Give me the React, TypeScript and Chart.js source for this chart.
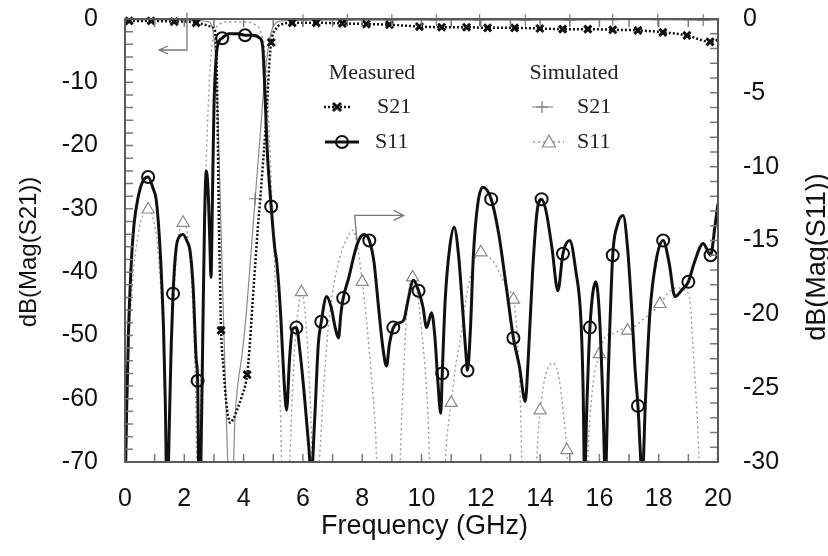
import React, { useEffect, useRef } from "react";
import { Chart, registerables } from "chart.js";

Chart.register(...registerables);

// ---------- data (frequency in GHz, magnitude in dB) ----------
const s11MeasFreq = [
  0.0, 0.05, 0.12, 0.2, 0.3, 0.45, 0.6, 0.78, 0.95, 1.05, 1.15, 1.22, 1.3, 1.36, 1.42,
  1.5, 1.56, 1.62, 1.72, 1.85, 1.96, 2.08, 2.2, 2.3, 2.4, 2.45, 2.5, 2.56, 2.62, 2.68,
  2.74, 2.8, 2.86, 2.9, 2.95, 3.0, 3.08, 3.18, 3.28, 3.5, 3.8, 4.05, 4.3, 4.55, 4.65,
  4.72, 4.8, 4.93, 5.05, 5.12, 5.25, 5.35, 5.45, 5.55, 5.65, 5.78, 5.9, 6.05, 6.2, 6.28,
  6.4, 6.52, 6.62, 6.8, 6.95, 7.1, 7.2, 7.28, 7.36, 7.55, 7.75, 7.9, 8.07, 8.24, 8.4,
  8.55, 8.7, 8.82, 8.92, 9.05, 9.2, 9.4, 9.55, 9.73, 9.9, 10.05, 10.17, 10.34, 10.45,
  10.55, 10.65, 10.7, 10.8, 10.95, 11.1, 11.25, 11.4, 11.5, 11.55, 11.65, 11.75, 11.9,
  12.07, 12.35, 12.6, 12.85, 13.1, 13.3, 13.5, 13.6, 13.75, 13.9, 14.05, 14.2, 14.4,
  14.6, 14.77, 15.0, 15.2, 15.38, 15.45, 15.5, 15.58, 15.68, 15.88, 16.0, 16.12, 16.2,
  16.3, 16.45, 16.6, 16.8, 16.95, 17.1, 17.2, 17.3, 17.45, 17.55, 17.7, 17.9, 18.15,
  18.35, 18.55, 18.8, 19.0, 19.2, 19.5, 19.75, 19.9, 20.0,
];
const s11MeasDb = [
  -33, -27, -21, -17, -14, -12, -11, -10.7, -11.5, -12.2, -14.5, -17, -21, -26, -33,
  -27, -22, -18.6, -15.6, -14.7, -14.6, -15, -15.8, -18.2, -23, -24.5, -33, -30, -22, -14,
  -10.3, -11.5, -15, -17.5, -12, -6, -2.5, -1.5, -1.3, -1.0, -1.0, -1.1, -1.1, -1.3, -2,
  -5, -9, -12.7, -15.5, -16.5, -20, -24, -26.5, -23, -21, -20.9, -22.5, -25.5, -29, -31,
  -27, -22, -20.5, -18.8, -19.5, -21, -21.6, -20, -18.9, -17.5, -15.8, -14.9, -14.6, -15.0, -16.5,
  -19.5, -22.3, -23.5, -22, -20.9, -20.6, -20.4, -19, -17.7, -18.4, -19.5, -20.9, -19.9, -21.5,
  -24.5, -26.7, -24, -19, -15.5, -14.1, -16, -20, -22.7, -23.8, -21, -16, -12.5,
  -11.4, -12.2, -14.5, -18, -21.6, -23.5, -25.9, -23, -17, -13, -12.2, -13, -15.5,
  -18.4, -15.9, -15, -17, -20.5, -25, -31, -26, -20.9, -17.8, -20, -26, -31,
  -24, -16, -14, -13.3, -15.5, -20, -23.6, -26.2, -31, -26, -20, -16.5, -15,
  -16.5, -18.8, -18.3, -17.8, -16.5, -15.2, -16, -14, -12.5,
];
const s11MeasMarkers = [
  0.78, 1.62, 2.45, 3.28, 4.05, 4.93, 5.78, 6.62, 7.36, 8.24, 9.05, 9.9, 10.7, 11.55,
  12.35, 13.1, 14.05, 14.77, 15.68, 16.45, 17.3, 18.15, 19.0, 19.75,
];

const s21MeasFreq = [
  0.0, 0.14, 0.5, 0.88, 1.3, 1.66, 2.0, 2.4, 2.7, 2.9, 3.0, 3.08, 3.12, 3.16, 3.2, 3.24,
  3.32, 3.41, 3.48, 3.55, 3.65, 3.8, 3.95, 4.05, 4.12, 4.2, 4.3, 4.39, 4.48, 4.56, 4.65,
  4.73, 4.8, 4.87, 4.93, 5.1, 5.3, 5.64, 6.45, 7.33, 8.14, 8.92, 9.93, 10.68, 11.52,
  12.23, 13.14, 13.99, 14.76, 15.61, 16.45, 17.3, 18.14, 18.95, 19.73, 20.0,
];
const s21MeasDb = [
  -0.2, -0.3, -0.3, -0.3, -0.35, -0.4, -0.4, -0.6, -0.9, -1.2, -1.5, -5, -15, -30, -40, -49.2,
  -55, -60.3, -62.8, -63.8, -63.2, -61.5, -59.5, -58, -56.2, -52, -45, -39, -33, -28.6, -23,
  -18, -12.7, -7, -3.7, -1.5, -0.8, -0.6, -0.6, -0.7, -0.8, -0.9, -1.2, -1.3, -1.3,
  -1.4, -1.4, -1.5, -1.6, -1.6, -1.7, -1.8, -2.1, -2.6, -3.6, -3.3,
];
const s21MeasMarkers = [
  0.14, 0.88, 1.66, 2.4, 3.24, 4.12, 4.93, 5.64, 6.45, 7.33, 8.14, 8.92, 9.93, 10.68,
  11.52, 12.23, 13.14, 13.99, 14.76, 15.61, 16.45, 17.3, 18.14, 18.95, 19.73,
];

const s11SimFreq = [
  0.0, 0.1, 0.25, 0.45, 0.6, 0.78, 0.95, 1.1, 1.25, 1.35, 1.42, 1.55, 1.7, 1.85, 1.96,
  2.1, 2.25, 2.38, 2.45, 2.55, 2.65, 2.75, 2.85, 2.95, 3.1, 3.5, 4.0, 4.4, 4.6, 4.75,
  4.85, 4.95, 5.05, 5.15, 5.25, 5.32, 5.45, 5.55, 5.7, 5.82, 5.95, 6.1, 6.25, 6.38,
  6.55, 6.7, 6.85, 7.0, 7.2, 7.45, 7.7, 7.85, 8.0, 8.15, 8.3, 8.45, 8.55, 9.2, 9.35,
  9.5, 9.6, 9.7, 9.85, 10.0, 10.2, 10.35, 10.7, 10.85, 11.0, 11.15, 11.3, 11.5, 11.7,
  11.85, 12.0, 12.2, 12.45, 12.7, 12.9, 13.1, 13.25, 13.35, 13.42, 13.8, 13.92, 14.0,
  14.2, 14.45, 14.65, 14.8, 14.9, 15.0, 15.55, 15.65, 15.8, 16.0, 16.2, 16.5, 16.75,
  16.95, 17.2, 17.5, 17.8, 18.04, 18.3, 18.6, 18.9, 19.05, 19.15, 19.3, 19.45, 19.9, 20.0,
];
const s11SimDb = [
  -33, -24, -18, -14.5, -13.3, -12.9, -13.5, -15.5, -20, -26, -33, -24, -17, -14.2, -13.8,
  -14.5, -18, -25, -33, -26, -16, -9, -4, -1.5, -0.5, -0.2, -0.2, -0.4, -1, -3,
  -7, -12, -17, -22, -27, -33, -33, -30, -23, -20, -18.5, -20.5, -26, -33,
  -30, -25, -21, -18.5, -16.5, -15, -14.3, -15.5, -17.8, -20.5, -24, -28, -33, -33, -26,
  -20, -18, -17.5, -18.5, -21, -26, -33, -33, -28.5, -26, -23.5, -21.8, -19, -17,
  -16, -15.8, -16, -16.5, -17.5, -18.3, -19, -22, -27, -33, -33, -28.5, -26.5,
  -24, -23.3, -24.5, -27, -29.2, -33, -33, -28, -24.5, -22.7, -21.5, -21.3, -21,
  -21.1, -20.8, -20.3, -19.8, -19.3, -18.6, -18.2, -18.4, -19, -22, -27, -33, -33, -28,
];
const s11SimMarkers = [0.78, 1.96, 5.95, 8.0, 9.7, 11.0, 12.0, 13.1, 14.0, 14.9, 16.0, 16.95, 18.04];

const s21SimFreq = [
  0.0, 1.0, 2.0, 2.8, 2.95, 3.05, 3.15, 3.25, 3.35, 3.45, 3.52, 3.62, 3.7, 3.8, 3.95,
  4.1, 4.25, 4.39, 4.55, 4.7, 4.85, 5.0, 5.3, 6.0, 7.5, 9.0, 10.5, 11.96, 13.5, 15.0,
  16.45, 17.97, 19.5, 20.0,
];
const s21SimDb = [
  -0.1, -0.1, -0.2, -0.4, -1.5, -6, -18, -35, -52, -68, -76, -76, -64, -58, -53,
  -46, -37, -28.4, -19, -10, -4, -1.2, -0.3, -0.2, -0.2, -0.2, -0.2, -0.2, -0.2, -0.2,
  -0.1, -0.1, -0.2, -0.2,
];
const s21SimMarkers = [4.39, 6.0, 7.5, 9.0, 10.5, 11.96, 13.5, 15.0, 16.45, 17.97, 19.5];

const xTitle = "Frequency (GHz)";
const yLeftTitle = "dB(Mag(S21))";
const yRightTitle = "dB(Mag(S11))";
const legendHeaders = ["Measured", "Simulated"];
const legendRows = ["S21", "S11"];

// arrows (data coordinates): left arrow on S21 axis, right arrow on S11 axis
const leftArrow = { x0: 2.09, yTop: 1.0, yBend: -4.9, xEnd: 1.15 };
const rightArrow = { x0: 7.75, yStart: -15.0, yBend: -13.3, xEnd: 9.4 };

const SANS = "'Liberation Sans', Arial, Helvetica, sans-serif";
const SERIF = "'Liberation Serif', 'Times New Roman', serif";

function pts(f: number[], v: number[]) {
  return f.map((x, i) => ({ x, y: v[i] }));
}

function markerRadius(markers: number[], r: number) {
  return (ctx: any) => (ctx.raw && markers.includes(ctx.raw.x) ? r : 0);
}

function drawMarker(ctx: CanvasRenderingContext2D, kind: string, x: number, y: number) {
  ctx.save();
  ctx.setLineDash([]);
  if (kind === "x") {
    ctx.strokeStyle = "#111";
    ctx.lineWidth = 3;
    ctx.beginPath();
    ctx.moveTo(x - 4, y - 4); ctx.lineTo(x + 4, y + 4);
    ctx.moveTo(x + 4, y - 4); ctx.lineTo(x - 4, y + 4);
    ctx.stroke();
  } else if (kind === "o") {
    ctx.strokeStyle = "#111";
    ctx.lineWidth = 2;
    ctx.beginPath();
    ctx.arc(x, y, 6, 0, Math.PI * 2);
    ctx.stroke();
  } else if (kind === "+") {
    ctx.strokeStyle = "#777";
    ctx.lineWidth = 1.2;
    ctx.beginPath();
    ctx.moveTo(x - 6, y); ctx.lineTo(x + 6, y);
    ctx.moveTo(x, y - 6); ctx.lineTo(x, y + 6);
    ctx.stroke();
  } else if (kind === "t") {
    ctx.strokeStyle = "#888";
    ctx.fillStyle = "#fff";
    ctx.lineWidth = 1.2;
    ctx.beginPath();
    ctx.moveTo(x, y - 7); ctx.lineTo(x + 6.5, y + 5); ctx.lineTo(x - 6.5, y + 5);
    ctx.closePath();
    ctx.fill();
    ctx.stroke();
  }
  ctx.restore();
}

const decorPlugin = {
  id: "decor",
  afterDatasetsDraw(chart: any) {
    const { ctx, chartArea: a, scales } = chart;
    const sx = scales.x, sy = scales.y, sy1 = scales.y1;
    ctx.save();

    // inward tick marks
    ctx.strokeStyle = "#7a7a7a";
    ctx.lineWidth = 1.5;
    ctx.beginPath();
    for (let f = 0; f <= 20; f += 1) {
      const px = sx.getPixelForValue(f);
      ctx.moveTo(px, a.bottom); ctx.lineTo(px, a.bottom - 8);
      ctx.moveTo(px, a.top); ctx.lineTo(px, a.top + 8);
    }
    for (let v = -70; v <= 0; v += 2) {
      const py = sy.getPixelForValue(v);
      ctx.moveTo(a.left, py); ctx.lineTo(a.left + 8, py);
    }
    for (let v = -30; v <= 0; v += 1) {
      const py = sy1.getPixelForValue(v);
      ctx.moveTo(a.right, py); ctx.lineTo(a.right - 8, py);
    }
    ctx.stroke();

    // frame
    ctx.strokeStyle = "#5a5a5a";
    ctx.lineWidth = 2;
    ctx.strokeRect(a.left, a.top, a.right - a.left, a.bottom - a.top);

    // arrows
    ctx.strokeStyle = "#777";
    ctx.lineWidth = 1.3;
    const lx = sx.getPixelForValue(leftArrow.x0);
    const lyT = sy.getPixelForValue(leftArrow.yTop);
    const lyB = sy.getPixelForValue(leftArrow.yBend);
    const lxe = sx.getPixelForValue(leftArrow.xEnd);
    ctx.beginPath();
    ctx.moveTo(lx, lyT); ctx.lineTo(lx, lyB); ctx.lineTo(lxe, lyB);
    ctx.moveTo(lxe + 9, lyB - 4); ctx.lineTo(lxe, lyB); ctx.lineTo(lxe + 9, lyB + 4);
    ctx.stroke();
    const rx = sx.getPixelForValue(rightArrow.x0);
    const ryS = sy1.getPixelForValue(rightArrow.yStart);
    const ryB = sy1.getPixelForValue(rightArrow.yBend);
    const rxe = sx.getPixelForValue(rightArrow.xEnd);
    ctx.beginPath();
    ctx.moveTo(rx + 2, ryS); ctx.lineTo(rx, ryB); ctx.lineTo(rxe, ryB);
    ctx.moveTo(rxe - 10, ryB - 5); ctx.lineTo(rxe, ryB); ctx.lineTo(rxe - 10, ryB + 5);
    ctx.stroke();

    // legend
    ctx.fillStyle = "#222";
    ctx.font = `22px ${SERIF}`;
    ctx.textBaseline = "middle";
    ctx.textAlign = "center";
    ctx.fillText(legendHeaders[0], 372, 73);
    ctx.fillText(legendHeaders[1], 574, 73);
    ctx.textAlign = "left";
    ctx.fillText(legendRows[0], 377, 107);
    ctx.fillText(legendRows[1], 375, 142);
    ctx.fillText(legendRows[0], 577, 107);
    ctx.fillText(legendRows[1], 577, 142);
    // samples
    ctx.strokeStyle = "#111";
    ctx.lineWidth = 2.5;
    ctx.setLineDash([2, 2]);
    ctx.beginPath(); ctx.moveTo(324, 107); ctx.lineTo(350, 107); ctx.stroke();
    ctx.setLineDash([]);
    drawMarker(ctx, "x", 337, 107);
    ctx.lineWidth = 3;
    ctx.beginPath(); ctx.moveTo(325, 142); ctx.lineTo(359, 142); ctx.stroke();
    drawMarker(ctx, "o", 342, 142);
    ctx.strokeStyle = "#777";
    ctx.lineWidth = 1;
    ctx.beginPath(); ctx.moveTo(532, 107); ctx.lineTo(553, 107); ctx.stroke();
    drawMarker(ctx, "+", 542, 107);
    ctx.strokeStyle = "#999";
    ctx.lineWidth = 1.3;
    ctx.setLineDash([2, 3]);
    ctx.beginPath(); ctx.moveTo(533, 142); ctx.lineTo(564, 142); ctx.stroke();
    ctx.setLineDash([]);
    drawMarker(ctx, "t", 549, 142);

    // axis titles
    ctx.fillStyle = "#111";
    ctx.textAlign = "center";
    ctx.textBaseline = "middle";
    ctx.font = `27px ${SANS}`;
    ctx.fillText(xTitle, (a.left + a.right) / 2 + 3, 527);
    ctx.font = `24px ${SANS}`;
    ctx.save();
    ctx.translate(29, 252);
    ctx.rotate(-Math.PI / 2);
    ctx.fillText(yLeftTitle, 0, 0);
    ctx.restore();
    ctx.font = `27px ${SANS}`;
    ctx.save();
    ctx.translate(818, 257);
    ctx.rotate(-Math.PI / 2);
    ctx.fillText(yRightTitle, 0, 0);
    ctx.restore();

    ctx.restore();
  },
};

function zeroPad(s: any) {
  s.paddingTop = 0;
  s.paddingBottom = 0;
  s.paddingLeft = 0;
  s.paddingRight = 0;
}

export default function App() {
  const ref = useRef<HTMLCanvasElement | null>(null);

  useEffect(() => {
    document.body.style.margin = "0";
    const canvas = ref.current;
    if (!canvas) return;
    const tickFont = { family: SANS, size: 25 };
    const chart = new Chart(canvas, {
      type: "line",
      data: {
        datasets: [
          {
            label: "Measured S11",
            data: pts(s11MeasFreq, s11MeasDb),
            yAxisID: "y1",
            borderColor: "#111",
            borderWidth: 3,
            cubicInterpolationMode: "monotone",
            pointStyle: "circle",
            pointRadius: markerRadius(s11MeasMarkers, 6),
            pointBorderWidth: 2,
            pointBorderColor: "#111",
            pointBackgroundColor: "rgba(255,255,255,0)",
            order: 1,
          },
          {
            label: "Measured S21",
            data: pts(s21MeasFreq, s21MeasDb),
            yAxisID: "y",
            borderColor: "#111",
            borderWidth: 2.5,
            borderDash: [2, 2],
            cubicInterpolationMode: "monotone",
            pointStyle: "crossRot",
            pointRadius: markerRadius(s21MeasMarkers, 5),
            pointBorderWidth: 3,
            pointBorderColor: "#111",
            clip: { left: 0, top: 8, right: 8, bottom: 0 },
            order: 2,
          },
          {
            label: "Simulated S21",
            data: pts(s21SimFreq, s21SimDb),
            yAxisID: "y",
            borderColor: "#8a8a8a",
            borderWidth: 1.2,
            cubicInterpolationMode: "monotone",
            pointStyle: "cross",
            pointRadius: markerRadius(s21SimMarkers, 6),
            pointBorderWidth: 1.2,
            pointBorderColor: "#777",
            clip: { left: 0, top: 8, right: 8, bottom: 0 },
            order: 4,
          },
          {
            label: "Simulated S11",
            data: pts(s11SimFreq, s11SimDb),
            yAxisID: "y1",
            borderColor: "#9a9a9a",
            borderWidth: 1.4,
            borderDash: [2, 3],
            cubicInterpolationMode: "monotone",
            pointStyle: "triangle",
            pointRadius: markerRadius(s11SimMarkers, 7),
            pointBorderWidth: 1.2,
            pointBorderColor: "#888",
            pointBackgroundColor: "#fff",
            order: 3,
          },
        ],
      },
      options: {
        responsive: false,
        animation: false,
        events: [],
        layout: { padding: { top: 19, left: 0, right: 0, bottom: 0 } },
        plugins: { legend: { display: false }, tooltip: { enabled: false } },
        scales: {
          x: {
            type: "linear",
            min: 0,
            max: 20,
            grid: { display: false, drawTicks: false },
            border: { display: false },
            ticks: { stepSize: 2, font: tickFont, color: "#111", padding: 22, maxRotation: 0 },
            afterFit: (s: any) => { s.height = 94; zeroPad(s); },
          },
          y: {
            type: "linear",
            position: "left",
            min: -70,
            max: 0,
            grid: { display: false, drawTicks: false },
            border: { display: false },
            ticks: { stepSize: 10, font: tickFont, color: "#111", padding: 27 },
            afterFit: (s: any) => { s.width = 125; zeroPad(s); },
          },
          y1: {
            type: "linear",
            position: "right",
            min: -30,
            max: 0,
            grid: { display: false, drawTicks: false },
            border: { display: false },
            ticks: { stepSize: 5, font: tickFont, color: "#111", padding: 25 },
            afterFit: (s: any) => { s.width = 110; zeroPad(s); },
          },
        },
      },
      plugins: [decorPlugin],
    } as any);
    return () => chart.destroy();
  }, []);

  return (
    <div style={{ width: 828, height: 556, background: "#fff" }}>
      <canvas ref={ref} width={828} height={556} style={{ display: "block" }} />
    </div>
  );
}
